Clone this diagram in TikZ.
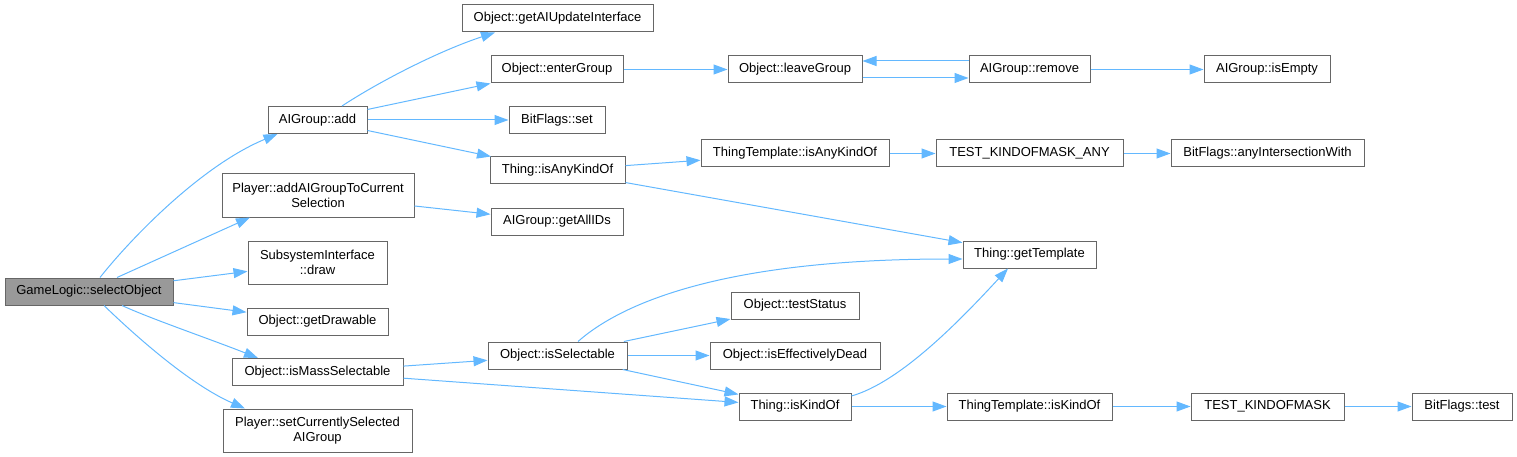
\documentclass[tikz,border=0pt]{standalone}
\usepackage{fontspec}
\setmainfont{Liberation Sans}
\usepackage{tikz}
\usetikzlibrary{arrows.meta}
\definecolor{edgecolor}{HTML}{63B8FF}
\definecolor{framecolor}{HTML}{666666}
\definecolor{rootcolor}{HTML}{999999}

\begin{document}
\begin{tikzpicture}[x=1pt, y=-1pt,
    box/.style={draw=framecolor, fill=white, line width=1pt, inner sep=0pt,
                minimum height=27pt, align=center,
                font=\fontsize{13}{15}\selectfont},
    tall/.style={minimum height=43pt},
    arr/.style={-{Triangle[length=14pt, width=10pt]}, draw=edgecolor, line width=1pt}
]
    \useasboundingbox (0,0) rectangle (1517,457);

    % root and first column
    \node[box, fill=rootcolor, minimum width=168pt] (sel) at (89,291.5) {GameLogic::selectObject};
    \node[box, minimum width=99pt]  (add)      at (317.5,120)   {AIGroup::add};
    \node[box, tall, minimum width=192pt] (addsel) at (318,195.5) {Player::addAIGroupToCurrent\\Selection};
    \node[box, tall, minimum width=139pt] (sdraw)  at (317.5,262.5) {SubsystemInterface\\::draw};
    \node[box, minimum width=141pt] (getdraw)  at (317.5,321.5) {Object::getDrawable};
    \node[box, minimum width=171pt] (masssel)  at (317.5,372)   {Object::isMassSelectable};
    \node[box, tall, minimum width=189pt] (setsel) at (317.5,430.5) {Player::setCurrentlySelected\\AIGroup};

    % second column
    \node[box, minimum width=191pt] (aiupd)    at (557.5,18.5)  {Object::getAIUpdateInterface};
    \node[box, minimum width=132pt] (enter)    at (557,69.5)    {Object::enterGroup};
    \node[box, minimum width=96pt]  (bset)     at (557,120)     {BitFlags::set};
    \node[box, minimum width=135pt] (anykind)  at (557.5,170.5) {Thing::isAnyKindOf};
    \node[box, minimum width=132pt] (allids)   at (557,221.5)   {AIGroup::getAllIDs};
    \node[box, minimum width=139pt] (selable)  at (557.5,355.5) {Object::isSelectable};

    % third column
    \node[box, minimum width=134pt] (leave)    at (795,69.5)    {Object::leaveGroup};
    \node[box, minimum width=188pt] (ttany)    at (795,153.5)   {ThingTemplate::isAnyKindOf};
    \node[box, minimum width=128pt] (status)   at (795,305.5)   {Object::testStatus};
    \node[box, minimum width=170pt] (dead)     at (795,355.5)   {Object::isEffectivelyDead};
    \node[box, minimum width=112pt] (kindof)   at (795,406.5)   {Thing::isKindOf};

    % fourth column and beyond
    \node[box, minimum width=121pt] (remove)   at (1029.5,69.5)  {AIGroup::remove};
    \node[box, minimum width=187pt] (maskany)  at (1029.5,153.5) {TEST\_KINDOFMASK\_ANY};
    \node[box, minimum width=133pt] (gettmpl)  at (1029.5,254.5) {Thing::getTemplate};
    \node[box, minimum width=165pt] (ttkind)   at (1029.5,406.5) {ThingTemplate::isKindOf};
    \node[box, minimum width=126pt] (isempty)  at (1267,69.5)    {AIGroup::isEmpty};
    \node[box, minimum width=193pt] (anyinter) at (1267.5,153.5) {BitFlags::anyIntersectionWith};
    \node[box, minimum width=153pt] (mask)     at (1267.5,406.5) {TEST\_KINDOFMASK};
    \node[box, minimum width=100pt] (btest)    at (1462,406.5)   {BitFlags::test};

    % calls from the root
    \draw[arr] ([xshift=11pt]sel.north) .. controls +(30,-38) and +(-77,32) .. ([xshift=-40pt]add.south);
    \draw[arr] ([xshift=28pt]sel.north) -- ([xshift=-68pt]addsel.south);
    \draw[arr] (sel) -- (sdraw);
    \draw[arr] (sel) -- (getdraw);
    \draw[arr] ([xshift=33pt]sel.south) .. controls +(28,13) and +(-48,-19) .. ([xshift=-59.5pt]masssel.north);
    \draw[arr] ([xshift=15pt]sel.south) .. controls +(31,30) and +(-55,-24) .. ([xshift=-72.5pt]setsel.north);

    \draw[arr] ([xshift=24.5pt]add.north) .. controls +(38,-25) and +(-55,18) .. ([xshift=-62.5pt]aiupd.south);
    \draw[arr] (add) -- (enter);
    \draw[arr] (add) -- (bset);
    \draw[arr] (add) -- (anykind);
    \draw[arr] (addsel) -- (allids);

    \draw[arr] (enter) -- (leave);
    \draw[arr] ([yshift=-8.5pt]leave.east) -- ([yshift=-8.5pt]remove.west);
    \draw[arr] ([yshift=8.5pt]remove.west) -- ([yshift=8.5pt]leave.east);
    \draw[arr] (remove) -- (isempty);

    \draw[arr] (anykind) -- (ttany);
    \draw[arr] (anykind) -- (gettmpl);
    \draw[arr] (ttany) -- (maskany);
    \draw[arr] (maskany) -- (anyinter);

    % selection checks
    \draw[arr] (masssel) -- (selable);
    \draw[arr] (masssel) -- (kindof);
    \draw[arr] ([xshift=20.5pt]selable.north) .. controls +(42,-37) and +(-243,0) .. ([yshift=-4.5pt]gettmpl.west);
    \draw[arr] (selable) -- (status);
    \draw[arr] (selable) -- (dead);
    \draw[arr] (selable) -- (kindof);
    \draw[arr] ([yshift=10.5pt]kindof.east) .. controls +(49,-14) and +(-48,52) .. ([xshift=-21.5pt]gettmpl.south);
    \draw[arr] (kindof) -- (ttkind);
    \draw[arr] (ttkind) -- (mask);
    \draw[arr] (mask) -- (btest);
\end{tikzpicture}
\end{document}
